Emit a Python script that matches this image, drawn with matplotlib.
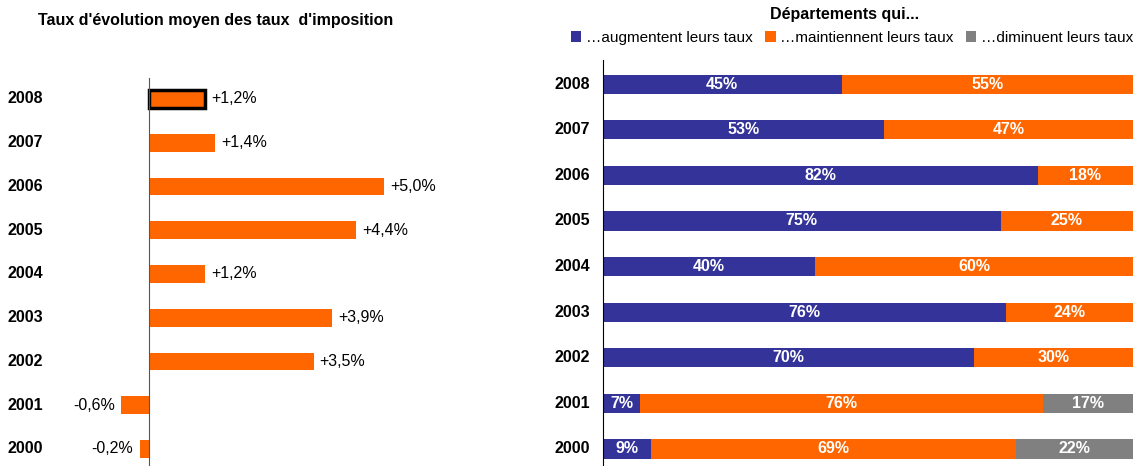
import numpy as np
from matplotlib import pyplot as plt
from matplotlib import transforms

plt.rcParams['font.family'] = ['Liberation Sans', 'DejaVu Sans']

# Data
years = ['2000', '2001', '2002', '2003', '2004', '2005', '2006', '2007', '2008']
evolution = [-0.2, -0.6, 3.5, 3.9, 1.2, 4.4, 5.0, 1.4, 1.2]
evol_labels = ['-0,2%', '-0,6%', '+3,5%', '+3,9%', '+1,2%', '+4,4%', '+5,0%', '+1,4%', '+1,2%']
augmentent = [9, 7, 70, 76, 40, 75, 82, 53, 45]
maintiennent = [69, 76, 30, 24, 60, 25, 18, 47, 55]
diminuent = [22, 17, 0, 0, 0, 0, 0, 0, 0]
series_names = ['…augmentent leurs taux', '…maintiennent leurs taux', '…diminuent leurs taux']

ORANGE = '#FF6600'
BLUE = '#333399'
GREY = '#808080'
FS = 11.5

W, H = 1141, 466
fig = plt.figure(figsize=(W / 100, H / 100), dpi=100)


def px_axes(x0, y0, x1, y1):
    return fig.add_axes([x0 / W, 1 - y1 / H, (x1 - x0) / W, (y1 - y0) / H])


ypos = np.arange(len(years))

# Left panel
ax1 = px_axes(60, 78, 480, 466)
ax1.set_xlim(-(149 - 60) / 47, -(149 - 60) / 47 + 420 / 47)
ax1.set_ylim(-0.389, 8.48)
bars = ax1.barh(ypos, evolution, height=0.41, color=ORANGE)
bars[-1].set_edgecolor('black')
bars[-1].set_linewidth(2.5)
for y, v, lab in zip(ypos, evolution, evol_labels):
    if v >= 0:
        ax1.text(v + 0.13, y, lab, va='center', ha='left', fontsize=FS)
    else:
        ax1.text(v - 0.13, y, lab, va='center', ha='right', fontsize=FS)
for s in ['top', 'right', 'bottom']:
    ax1.spines[s].set_visible(False)
ax1.spines['left'].set_position(('data', 0))
ax1.spines['left'].set_color('#555555')
ax1.set_xticks([])
ax1.set_yticks([])
tr1 = transforms.blended_transform_factory(fig.transFigure, ax1.transData)
for y, yr in zip(ypos, years):
    ax1.text(8 / W, y, yr, transform=tr1, ha='left', va='center', fontsize=FS, fontweight='bold')
fig.text(216 / W, 1 - 20 / H, "Taux d'évolution moyen des taux  d'imposition",
         ha='center', va='center', fontsize=FS, fontweight='bold')

# Right panel
ax2 = px_axes(603, 60, 1133, 466)
ax2.set_xlim(0, 100)
ax2.set_ylim(-0.373, 8.53)
left = np.zeros(len(years))
for vals, col, name in zip([augmentent, maintiennent, diminuent], [BLUE, ORANGE, GREY], series_names):
    vals = np.array(vals, dtype=float)
    ax2.barh(ypos, vals, left=left, height=0.42, color=col, label=name)
    for y, l, v in zip(ypos, left, vals):
        if v > 0:
            ax2.text(l + v / 2, y, f'{int(v)}%', ha='center', va='center',
                     color='white', fontsize=FS, fontweight='bold')
    left += vals
for s in ['top', 'right', 'bottom']:
    ax2.spines[s].set_visible(False)
ax2.set_xticks([])
ax2.set_yticks([])
tr2 = transforms.blended_transform_factory(fig.transFigure, ax2.transData)
for y, yr in zip(ypos, years):
    ax2.text(590 / W, y, yr, transform=tr2, ha='right', va='center', fontsize=FS, fontweight='bold')
fig.text(845 / W, 1 - 15 / H, 'Départements qui...', ha='center', va='center',
         fontsize=FS, fontweight='bold')
fig.legend(loc='center', bbox_to_anchor=(852 / W, 1 - 38 / H), ncol=3, frameon=False,
           fontsize=FS - 0.5, handlelength=0.7, handleheight=0.7, handletextpad=0.3,
           columnspacing=0.8, borderpad=0)

fig.savefig('out.png', dpi=100)
